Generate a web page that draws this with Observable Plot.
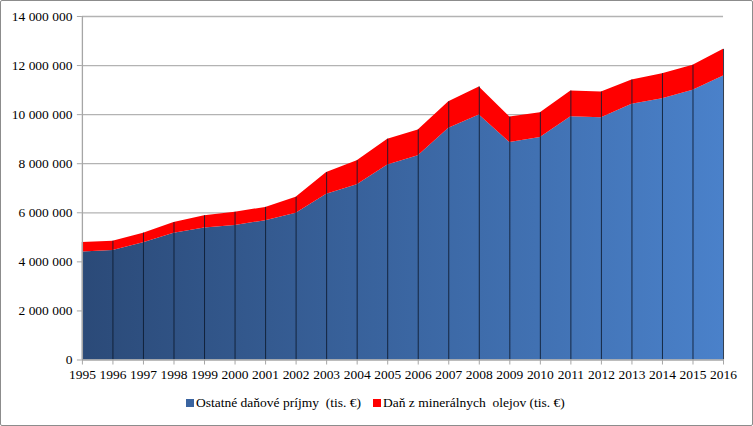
<!DOCTYPE html>
<html>
<head>
<meta charset="utf-8">
<script src="https://cdn.jsdelivr.net/npm/d3@7"></script>
<script src="https://cdn.jsdelivr.net/npm/@observablehq/plot@0.6"></script>
<style>
  html, body { margin: 0; padding: 0; background: #fff; }
  #frame { position: relative; width: 751px; height: 424px; border: 1px solid #8c8c8c; border-radius: 2px; overflow: hidden; background: #fff; }
  #chart { position: absolute; left: -1px; top: -1px; }
  #chart svg, #chart svg text { font-family: 'Liberation Serif', 'DejaVu Serif', serif !important; }
  #legend { position: absolute; left: 0; top: 394px; width: 751px; font-family: 'Liberation Serif', 'DejaVu Serif', serif; font-size: 13.5px; color: #000; }
  .item { position: absolute; white-space: pre; }
  .sw { display: inline-block; width: 8px; height: 8px; margin-right: 2px; vertical-align: 0px; }
</style>
</head>
<body>
<div id="frame">
  <div id="chart"></div>
  <div id="legend"></div>
</div>
<script>
const years = [1995,1996,1997,1998,1999,2000,2001,2002,2003,2004,2005,2006,2007,2008,2009,2010,2011,2012,2013,2014,2015,2016];
const otherTax = [4400000,4460000,4780000,5170000,5380000,5480000,5680000,5980000,6760000,7140000,7950000,8320000,9440000,9980000,8860000,9070000,9910000,9870000,10420000,10650000,10990000,11570000];
const oilTax = [390000,380000,390000,430000,500000,540000,540000,650000,880000,980000,1050000,1050000,1080000,1150000,1040000,1010000,1050000,1050000,990000,1020000,1020000,1090000];
const yTicks = [0,2000000,4000000,6000000,8000000,10000000,12000000,14000000];
const seriesNames = ["Ostatné daňové príjmy  (tis. €)", "Daň z minerálnych  olejov (tis. €)"];
const seriesColors = ["#3a64a0", "#ff0000"];

const data = years.map((y, i) => ({year: y, other: otherTax[i], total: otherTax[i] + oilTax[i]}));
const fmt = v => d3.format(",")(v).replace(/,/g, " ");

const defs = () => {
  const ns = "http://www.w3.org/2000/svg";
  const d = document.createElementNS(ns, "defs");
  const g = document.createElementNS(ns, "linearGradient");
  g.setAttribute("id", "blueGrad");
  g.setAttribute("x1", "0"); g.setAttribute("x2", "1");
  g.setAttribute("y1", "0"); g.setAttribute("y2", "0");
  [["0%", "#2b4a78"], ["100%", "#4a81ca"]].forEach(([o, c]) => {
    const s = document.createElementNS(ns, "stop");
    s.setAttribute("offset", o); s.setAttribute("stop-color", c);
    g.appendChild(s);
  });
  d.appendChild(g);
  return d;
};

const chart = Plot.plot({
  width: 753,
  height: 392,
  marginLeft: 82,
  marginRight: 29,
  marginTop: 16,
  marginBottom: 32,
  style: { fontFamily: "'Liberation Serif', 'DejaVu Serif', serif", fontSize: "13.5px", color: "#000", background: "transparent" },
  x: { domain: [1995, 2016], label: null },
  y: { domain: [0, 14000000], label: null },
  marks: [
    defs,
    Plot.ruleY(yTicks.slice(1), { stroke: "#b3b3b3", strokeWidth: 1.3 }),
    Plot.areaY(data, { x: "year", y1: 0, y2: "other", fill: "url(#blueGrad)" }),
    Plot.areaY(data, { x: "year", y1: "other", y2: "total", fill: "#ff0000" }),
    Plot.ruleX(data, { x: "year", y1: 0, y2: "total", stroke: "#0d1a2e", strokeWidth: 1, strokeOpacity: 0.85 }),
    Plot.ruleX([1995], { stroke: "#a6a6a6", strokeWidth: 1.3 }),
    Plot.ruleY([0], { stroke: "#a6a6a6", strokeWidth: 1.3 }),
    Plot.axisX({ ticks: years, tickFormat: d => String(d), tickSize: 5, tickPadding: 4, stroke: "#a6a6a6", fontSize: 13.5 }),
    Plot.axisY({ ticks: yTicks, tickFormat: fmt, tickSize: 5, tickPadding: 5, stroke: "#a6a6a6", fontSize: 13.5 })
  ]
});
document.getElementById("chart").appendChild(chart);

const legend = document.getElementById("legend");
const positions = [185, 372];
seriesNames.forEach((name, i) => {
  const it = document.createElement("span");
  it.className = "item";
  it.style.left = positions[i] + "px";
  const sw = document.createElement("span");
  sw.className = "sw";
  sw.style.background = seriesColors[i];
  it.appendChild(sw);
  it.appendChild(document.createTextNode(name));
  legend.appendChild(it);
});
</script>
</body>
</html>
